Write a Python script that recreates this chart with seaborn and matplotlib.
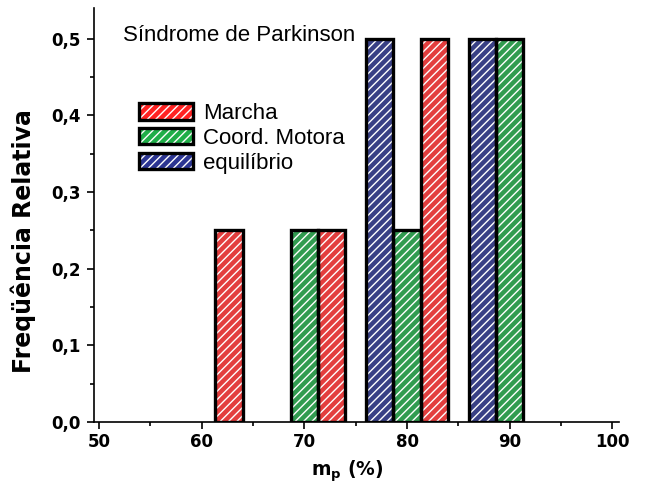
import pandas as pd
import seaborn as sns
import matplotlib.pyplot as plt
from matplotlib.patches import Patch
from matplotlib.ticker import MultipleLocator, FuncFormatter

# values
bins = [60, 70, 80, 90]
marcha = [0.25, 0.25, 0.50, 0.00]
coord_motora = [0.00, 0.25, 0.25, 0.50]
equilibrio = [0.00, 0.00, 0.50, 0.50]

series = ['equilíbrio', 'Coord. Motora', 'Marcha']  # left -> right within a bin
legend_order = ['Marcha', 'Coord. Motora', 'equilíbrio']
colors = {'Marcha': '#ff2222', 'Coord. Motora': '#1fae48', 'equilíbrio': '#2c3592'}

rows = []
for name, vals in [('Marcha', marcha), ('Coord. Motora', coord_motora), ('equilíbrio', equilibrio)]:
    for b, v in zip(bins, vals):
        if v > 0:
            rows.append({'mp': b, 'freq': v, 'serie': name})
df = pd.DataFrame(rows)

sns.set_style('ticks')
plt.rcParams['font.family'] = ['DejaVu Sans']
plt.rcParams['hatch.linewidth'] = 1.0
for key in ['text.color', 'axes.labelcolor', 'xtick.color', 'ytick.color', 'xtick.labelcolor', 'ytick.labelcolor']:
    plt.rcParams[key] = 'black'

fig = plt.figure(figsize=(6.46, 4.84), dpi=100)
ax = fig.add_axes([0.146, 0.128, 0.8127, 0.8554])

# hatched fill (white stripes on colour)
sns.barplot(data=df, x='mp', y='freq', hue='serie', hue_order=series, palette=colors,
            native_scale=True, errorbar=None, legend=False, ax=ax,
            edgecolor='white', linewidth=0, hatch='////')
# black outline on top
sns.barplot(data=df, x='mp', y='freq', hue='serie', hue_order=series, palette=colors,
            native_scale=True, errorbar=None, legend=False, ax=ax,
            facecolor='none', edgecolor='black', linewidth=2.4)

ax.set_xlim(49.54, 100.68)
ax.set_ylim(0, 0.54)
ax.xaxis.set_major_locator(MultipleLocator(10))
ax.xaxis.set_minor_locator(MultipleLocator(5))
ax.yaxis.set_major_locator(MultipleLocator(0.1))
ax.yaxis.set_minor_locator(MultipleLocator(0.05))
ax.yaxis.set_major_formatter(FuncFormatter(lambda v, p: f'{v:.1f}'.replace('.', ',')))

sns.despine(ax=ax)
for s in ['left', 'bottom']:
    ax.spines[s].set_linewidth(1.2)
    ax.spines[s].set_color('black')
ax.tick_params(which='major', length=5, width=1.2, color='black', direction='out')
ax.tick_params(which='minor', length=3, width=1.2, color='black', direction='out')
ax.tick_params(axis='y', pad=5)
ax.tick_params(axis='x', pad=3)
for lab in ax.get_xticklabels() + ax.get_yticklabels():
    lab.set_fontsize(12)
    lab.set_fontweight('bold')

ax.set_xlabel('m$_\\mathbf{p}$ (%)', fontsize=13.5, fontweight='bold', color='black')
ax.set_ylabel('Freqüência Relativa', fontsize=17, fontweight='bold', color='black')
ax.xaxis.set_label_coords(0.481, -0.087)
ax.yaxis.set_label_coords(-0.112, 0.438)

ax.text(0.0547, 0.92, 'Síndrome de Parkinson', transform=ax.transAxes, color='black',
        fontsize=16, family='Liberation Sans', va='baseline', ha='left')

handles = [(Patch(facecolor=colors[n], edgecolor='white', linewidth=0, hatch='////'),
            Patch(facecolor='none', edgecolor='black', linewidth=2.4)) for n in legend_order]
fig.legend(handles, legend_order, loc='upper left', bbox_to_anchor=(139 / 646, 1 - 103 / 484),
           frameon=False, borderpad=0, borderaxespad=0, handlelength=2.45, handleheight=0.77,
           handletextpad=0.45, labelspacing=0.17, labelcolor='black',
           prop={'family': 'Liberation Sans', 'size': 16})

fig.savefig('out.png', dpi=100)
